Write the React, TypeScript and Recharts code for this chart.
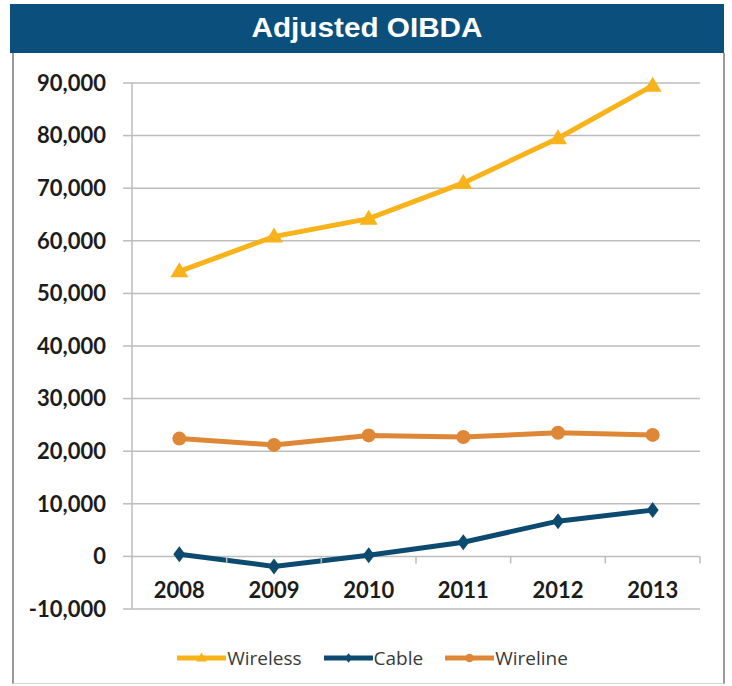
import React from 'react';
import { LineChart, Line, XAxis, YAxis, CartesianGrid, Legend } from 'recharts';

const years = ['2008', '2009', '2010', '2011', '2012', '2013'];
const wireless = [54200, 60800, 64200, 71000, 79500, 89500];
const cable = [400, -1900, 200, 2700, 6700, 8800];
const wireline = [22400, 21200, 23000, 22700, 23500, 23100];
const yTicks = [-10000, 0, 10000, 20000, 30000, 40000, 50000, 60000, 70000, 80000, 90000];

const Y_MIN = -10000;
const Y_MAX = 90000;

const series = [
  { key: 'wireless', name: 'Wireless', color: '#f8b21a', shape: 'triangle' },
  { key: 'cable', name: 'Cable', color: '#0d4a6f', shape: 'diamond' },
  { key: 'wireline', name: 'Wireline', color: '#de8736', shape: 'circle' },
];

const data = years.map((year, i) => ({
  year,
  wireless: wireless[i],
  cable: cable[i],
  wireline: wireline[i],
}));

// chart box
const W = 732;
const H = 686;
const M = { top: 83, right: 32, bottom: 0, left: 0 };
const X_AXIS_H = 77;
const PLOT_H = H - M.top - M.bottom - X_AXIS_H;

const gridColor = '#bdbdbd';
const labelFont = 'Lato, "Liberation Sans", sans-serif';

function marker(shape: string, cx: number, cy: number, color: string, key?: string, scale = 1) {
  if (shape === 'triangle') {
    const w = 9 * scale;
    return <path key={key} d={`M${cx},${cy - 9 * scale} L${cx + w},${cy + 6 * scale} L${cx - w},${cy + 6 * scale} Z`} fill={color} />;
  }
  if (shape === 'diamond') {
    return <path key={key} d={`M${cx},${cy - 8 * scale} L${cx + 6 * scale},${cy} L${cx},${cy + 8 * scale} L${cx - 6 * scale},${cy} Z`} fill={color} />;
  }
  return <circle key={key} cx={cx} cy={cy} r={7 * scale} fill={color} />;
}

const YearTick = (props: any) => {
  const { x, y, payload } = props;
  const half = payload.offset || (W - M.right - 132) / years.length / 2;
  // the category axis crosses at 0
  const zeroY = y - (PLOT_H * (0 - Y_MIN)) / (Y_MAX - Y_MIN);
  return (
    <g>
      <line x1={x + half} x2={x + half} y1={zeroY} y2={zeroY + 7} stroke={gridColor} strokeWidth={1.5} />
      <text x={x} y={y - 19} dy="0.36em" textAnchor="middle" fill="#1c1c1c"
        style={{ fontFamily: labelFont, fontWeight: 700, fontSize: 22 }}>
        {payload.value}
      </text>
    </g>
  );
};

const renderLegend = () => (
  <div style={{ display: 'flex', justifyContent: 'center', alignItems: 'center', paddingLeft: 35 }}>
    {series.map((s) => (
      <div key={s.key} style={{ display: 'flex', alignItems: 'center', marginRight: 22 }}>
        <svg width={49} height={18}>
          <line x1={0} x2={49} y1={9} y2={9} stroke={s.color} strokeWidth={5} />
          {marker(s.shape, 24.5, 9, s.color, undefined, 0.6)}
        </svg>
        <span style={{ fontFamily: '"Open Sans", sans-serif', fontSize: 19, color: '#3a3a3a', marginLeft: 1 }}>
          {s.name}
        </span>
      </div>
    ))}
  </div>
);

export default function App() {
  return (
    <div style={{ position: 'absolute', left: 0, top: 0, width: W, height: H, background: '#fff', overflow: 'hidden' }}>
      <div style={{
        position: 'absolute', left: 12, top: 53, width: 709, height: 630,
        borderLeft: '2px solid #9a9a9a', borderRight: '2px solid #9a9a9a', borderBottom: '1px solid #d6d6d6',
      }} />
      <div style={{
        position: 'absolute', left: 10, top: 4, width: 714, height: 49, background: '#0b4f7d',
        display: 'flex', alignItems: 'center', justifyContent: 'center',
      }}>
        <span style={{
          color: '#fff', fontFamily: '"Liberation Sans", Arial, sans-serif', fontWeight: 700,
          fontSize: 27, display: 'inline-block', transform: 'scaleX(1.1)',
        }}>
          Adjusted OIBDA
        </span>
      </div>
      <div style={{ position: 'absolute', left: 0, top: 0 }}>
        <LineChart width={W} height={H} data={data} margin={M}>
          <CartesianGrid horizontal vertical={false} stroke={gridColor} strokeWidth={1.5} />
          <XAxis
            dataKey="year"
            scale="band"
            height={X_AXIS_H}
            axisLine={false}
            tickLine={false}
            tickSize={0}
            tickMargin={0}
            interval={0}
            tick={<YearTick />}
          />
          <YAxis
            width={132}
            domain={[Y_MIN, Y_MAX]}
            ticks={yTicks}
            interval={0}
            tickFormatter={(v: number) => v.toLocaleString('en-US')}
            axisLine={{ stroke: gridColor, strokeWidth: 1.5 }}
            tickLine={{ stroke: gridColor, strokeWidth: 1.5 }}
            tickSize={9}
            tickMargin={17}
            tick={{ fill: '#1c1c1c', fontFamily: labelFont, fontWeight: 700, fontSize: 22 }}
          />
          <Legend
            layout="horizontal"
            verticalAlign="middle"
            align="center"
            content={renderLegend}
            wrapperStyle={{ top: 645, left: 0, width: W }}
          />
          {series.map((s) => (
            <Line
              key={s.key}
              dataKey={s.key}
              name={s.name}
              type="linear"
              stroke={s.color}
              strokeWidth={5}
              isAnimationActive={false}
              dot={(p: any) => marker(s.shape, p.cx, p.cy, s.color, `${s.key}-${p.index}`)}
              activeDot={false}
            />
          ))}
        </LineChart>
      </div>
    </div>
  );
}
